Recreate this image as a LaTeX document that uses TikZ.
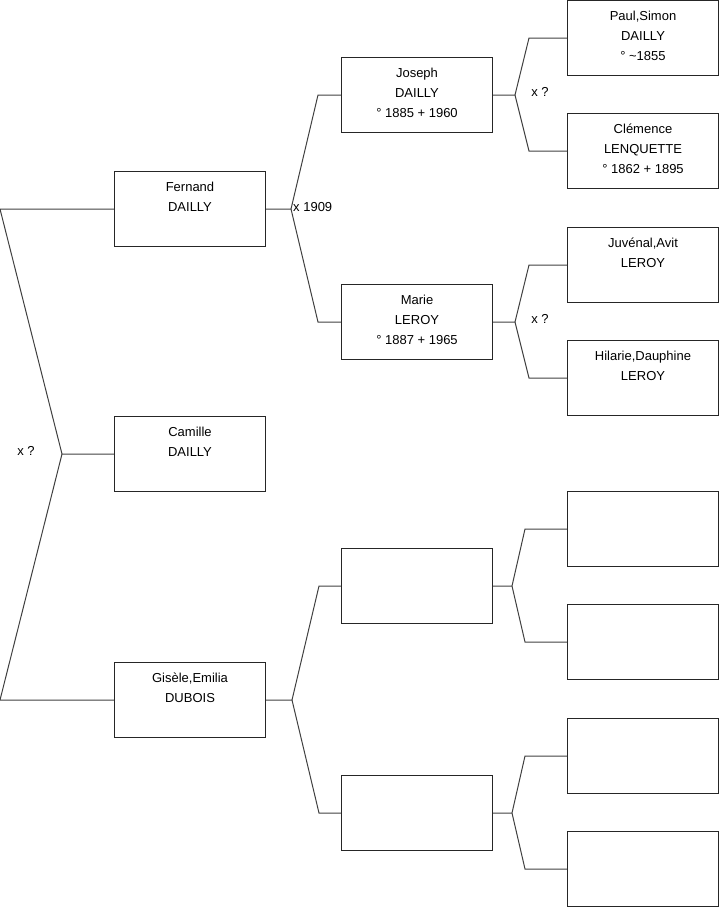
\documentclass[tikz,border=0pt]{standalone}
\usepackage{fontspec}
\setmainfont{Liberation Sans}

\begin{document}
\begin{tikzpicture}[x=1pt,y=-1pt,
  personbox/.style={draw=black!85,line width=1pt,minimum width=151pt,minimum height=75pt,
    inner sep=0pt,anchor=north west},
  persontext/.style={anchor=north,align=center,inner sep=0pt,yshift=-11pt,
    font=\fontsize{13}{20}\selectfont},
  link/.style={draw=black!75,line width=1pt},
  mariage/.style={font=\fontsize{13}{16}\selectfont,inner sep=0pt}]
\useasboundingbox (0,0) rectangle (719,908);

% generation 1
\node[personbox,label={[persontext]north:Fernand\\DAILLY}] (fernand) at (114,171) {};
\node[personbox,label={[persontext]north:Camille\\DAILLY}] (camille) at (114,416) {};
\node[personbox,label={[persontext]north:Gisèle,Emilia\\DUBOIS}] (gisele) at (114,662) {};

% generation 2
\node[personbox,label={[persontext]north:Joseph\\DAILLY\\° 1885 + 1960}] (joseph) at (341,57) {};
\node[personbox,label={[persontext]north:Marie\\LEROY\\° 1887 + 1965}] (marie) at (341,284) {};
\node[personbox] (pere) at (341,548) {};
\node[personbox] (mere) at (341,775) {};

% generation 3
\node[personbox,label={[persontext]north:Paul,Simon\\DAILLY\\° \textasciitilde1855}] (paul) at (567,0) {};
\node[personbox,label={[persontext]north:Clémence\\LENQUETTE\\° 1862 + 1895}] (clemence) at (567,113) {};
\node[personbox,label={[persontext]north:Juvénal,Avit\\LEROY}] (juvenal) at (567,227) {};
\node[personbox,label={[persontext]north:Hilarie,Dauphine\\LEROY}] (hilarie) at (567,340) {};
\node[personbox] (gpp) at (567,491) {};
\node[personbox] (gpm) at (567,604) {};
\node[personbox] (gmp) at (567,718) {};
\node[personbox] (gmm) at (567,831) {};

% liens
\coordinate (haut) at (fernand.west -| 0,0);
\coordinate (bas) at (gisele.west -| 0,0);
\coordinate (j0) at ([xshift=-52pt]camille.west);
\draw[link] (fernand.west) -- (haut) -- (j0) -- (camille.west);
\draw[link] (j0) -- (bas) -- (gisele.west);
\node[mariage] (m0) at (26,451) {x ?};

\coordinate (j1) at ([xshift=25pt]fernand.east);
\draw[link] (fernand.east) -- (j1) -- ([xshift=-23pt]joseph.west) -- (joseph.west);
\draw[link] (j1) -- ([xshift=-23pt]marie.west) -- (marie.west);
\node[mariage,anchor=west] (m1) at ([xshift=2pt,yshift=1.5pt]j1) {x 1909};

\coordinate (j2) at ([xshift=26pt]gisele.east);
\draw[link] (gisele.east) -- (j2) -- ([xshift=-22pt]pere.west) -- (pere.west);
\draw[link] (j2) -- ([xshift=-22pt]mere.west) -- (mere.west);

\coordinate (j3) at ([xshift=22pt]joseph.east);
\draw[link] (joseph.east) -- (j3) -- ([xshift=-38pt]paul.west) -- (paul.west);
\draw[link] (j3) -- ([xshift=-38pt]clemence.west) -- (clemence.west);
\node[mariage] (m3) at (540,92) {x ?};

\coordinate (j4) at ([xshift=22pt]marie.east);
\draw[link] (marie.east) -- (j4) -- ([xshift=-38pt]juvenal.west) -- (juvenal.west);
\draw[link] (j4) -- ([xshift=-38pt]hilarie.west) -- (hilarie.west);
\node[mariage] (m4) at (540,319) {x ?};

\coordinate (j5) at ([xshift=19pt]pere.east);
\draw[link] (pere.east) -- (j5) -- ([xshift=-42pt]gpp.west) -- (gpp.west);
\draw[link] (j5) -- ([xshift=-42pt]gpm.west) -- (gpm.west);

\coordinate (j6) at ([xshift=19pt]mere.east);
\draw[link] (mere.east) -- (j6) -- ([xshift=-42pt]gmp.west) -- (gmp.west);
\draw[link] (j6) -- ([xshift=-42pt]gmm.west) -- (gmm.west);
\end{tikzpicture}
\end{document}
